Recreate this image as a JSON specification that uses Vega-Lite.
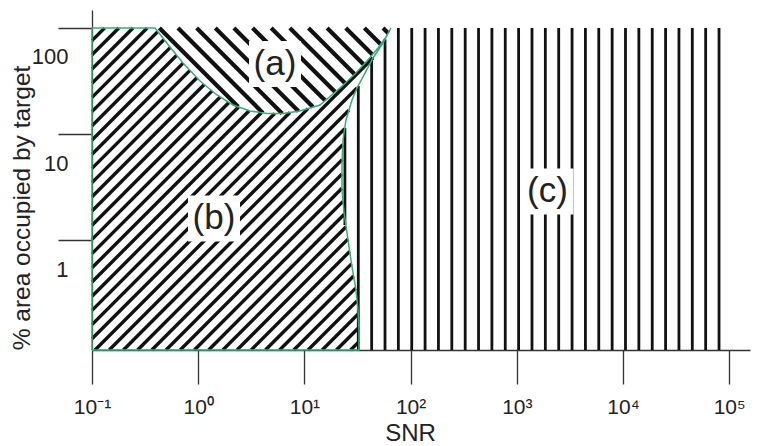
{
  "$schema": "https://vega.github.io/schema/vega-lite/v6.json",
  "width": 658,
  "height": 340,
  "autosize": {"type": "none"},
  "padding": {"left": 92, "top": 10, "right": 8, "bottom": 96},
  "background": "white",
  "config": {"view": {"stroke": null}, "font": "Liberation Sans"},
  "datasets": {
    "hatchC": [
      {"x": 24.07, "y": 1.3965, "x2": 24.07, "y2": 11.439},
      {"x": 32.17, "y": 0.09289, "x2": 32.17, "y2": 28.43},
      {"x": 42.98, "y": 0.09289, "x2": 42.98, "y2": 49.43},
      {"x": 57.43, "y": 0.09289, "x2": 57.43, "y2": 78.36},
      {"x": 76.7, "y": 0.09289, "x2": 76.7, "y2": 100},
      {"x": 102.5, "y": 0.09289, "x2": 102.5, "y2": 100},
      {"x": 136.9, "y": 0.09289, "x2": 136.9, "y2": 100},
      {"x": 182.9, "y": 0.09289, "x2": 182.9, "y2": 100},
      {"x": 244.4, "y": 0.09289, "x2": 244.4, "y2": 100},
      {"x": 326.6, "y": 0.09289, "x2": 326.6, "y2": 100},
      {"x": 436.3, "y": 0.09289, "x2": 436.3, "y2": 100},
      {"x": 582.9, "y": 0.09289, "x2": 582.9, "y2": 100},
      {"x": 778.7, "y": 0.09289, "x2": 778.7, "y2": 100},
      {"x": 1040, "y": 0.09289, "x2": 1040, "y2": 100},
      {"x": 1390, "y": 0.09289, "x2": 1390, "y2": 100},
      {"x": 1857, "y": 0.09289, "x2": 1857, "y2": 100},
      {"x": 2481, "y": 0.09289, "x2": 2481, "y2": 100},
      {"x": 3314, "y": 0.09289, "x2": 3314, "y2": 100},
      {"x": 4428, "y": 0.09289, "x2": 4428, "y2": 100},
      {"x": 5915, "y": 0.09289, "x2": 5915, "y2": 100},
      {"x": 7903, "y": 0.09289, "x2": 7903, "y2": 100},
      {"x": 10556, "y": 0.09289, "x2": 10556, "y2": 100},
      {"x": 14103, "y": 0.09289, "x2": 14103, "y2": 100},
      {"x": 18845, "y": 0.09289, "x2": 18845, "y2": 100},
      {"x": 25177, "y": 0.09289, "x2": 25177, "y2": 100},
      {"x": 33638, "y": 0.09289, "x2": 33638, "y2": 100},
      {"x": 44936, "y": 0.09289, "x2": 44936, "y2": 100},
      {"x": 60035, "y": 0.09289, "x2": 60035, "y2": 100},
      {"x": 80218, "y": 0.09289, "x2": 80218, "y2": 100}
    ],
    "hatchB": [
      {"x": 0.1, "y": 76.1, "x2": 0.13141, "y2": 100},
      {"x": 0.1, "y": 55.93, "x2": 0.17879, "y2": 100},
      {"x": 0.1, "y": 41.11, "x2": 0.24326, "y2": 100},
      {"x": 0.1, "y": 30.22, "x2": 0.33095, "y2": 100},
      {"x": 0.1, "y": 22.21, "x2": 0.41647, "y2": 92.5},
      {"x": 0.1, "y": 16.32, "x2": 0.47743, "y2": 77.92},
      {"x": 0.1, "y": 12.0, "x2": 0.5473, "y2": 65.68},
      {"x": 0.1, "y": 8.818, "x2": 0.6274, "y2": 55.32},
      {"x": 0.1, "y": 6.483, "x2": 0.7208, "y2": 46.73},
      {"x": 0.1, "y": 4.764, "x2": 0.8371, "y2": 39.88},
      {"x": 0.1, "y": 3.502, "x2": 0.9722, "y2": 34.05},
      {"x": 0.1, "y": 2.574, "x2": 1.1414, "y2": 29.38},
      {"x": 0.1, "y": 1.892, "x2": 1.3517, "y2": 25.57},
      {"x": 0.1, "y": 1.3904, "x2": 1.6112, "y2": 22.4},
      {"x": 0.1, "y": 1.0219, "x2": 1.9457, "y2": 19.88},
      {"x": 0.1, "y": 0.7511, "x2": 2.4011, "y2": 18.035},
      {"x": 0.1, "y": 0.5521, "x2": 3.0149, "y2": 16.645},
      {"x": 0.1, "y": 0.4058, "x2": 3.928, "y2": 15.94},
      {"x": 0.1, "y": 0.2982, "x2": 5.2522, "y2": 15.66},
      {"x": 0.1, "y": 0.2192, "x2": 7.3025, "y2": 16.007},
      {"x": 0.1, "y": 0.1611, "x2": 10.812, "y2": 17.42},
      {"x": 0.1, "y": 0.1184, "x2": 44.35, "y2": 52.51},
      {"x": 0.10672, "y": 0.09289, "x2": 31.28, "y2": 27.23},
      {"x": 0.1452, "y": 0.09289, "x2": 26.24, "y2": 16.79},
      {"x": 0.19755, "y": 0.09289, "x2": 23.96, "y2": 11.267},
      {"x": 0.26877, "y": 0.09289, "x2": 22.99, "y2": 7.947},
      {"x": 0.36569, "y": 0.09289, "x2": 22.69, "y2": 5.765},
      {"x": 0.49751, "y": 0.09289, "x2": 22.6, "y2": 4.22},
      {"x": 0.67687, "y": 0.09289, "x2": 22.6, "y2": 3.101},
      {"x": 0.92092, "y": 0.09289, "x2": 23.09, "y2": 2.33},
      {"x": 1.2529, "y": 0.09289, "x2": 23.75, "y2": 1.7612},
      {"x": 1.7047, "y": 0.09289, "x2": 24.7, "y2": 1.3459},
      {"x": 2.3193, "y": 0.09289, "x2": 25.68, "y2": 1.0287},
      {"x": 3.1554, "y": 0.09289, "x2": 26.7, "y2": 0.7862},
      {"x": 4.2931, "y": 0.09289, "x2": 27.77, "y2": 0.6008},
      {"x": 5.841, "y": 0.09289, "x2": 29.06, "y2": 0.4622},
      {"x": 7.947, "y": 0.09289, "x2": 30.41, "y2": 0.3555},
      {"x": 10.812, "y": 0.09289, "x2": 31.35, "y2": 0.2694},
      {"x": 14.711, "y": 0.09289, "x2": 32.11, "y2": 0.2028},
      {"x": 20.014, "y": 0.09289, "x2": 32.6, "y2": 0.1513},
      {"x": 27.23, "y": 0.09289, "x2": 32.67, "y2": 0.1115}
    ],
    "hatchA": [
      {"x": 0.4308, "y": 100, "x2": 2.3787, "y2": 18.111},
      {"x": 0.6454, "y": 100, "x2": 4.067, "y2": 15.87},
      {"x": 0.9668, "y": 100, "x2": 6.172, "y2": 15.66},
      {"x": 1.4483, "y": 100, "x2": 8.797, "y2": 16.46},
      {"x": 2.1695, "y": 100, "x2": 12.056, "y2": 17.995},
      {"x": 3.2499, "y": 100, "x2": 15.685, "y2": 20.72},
      {"x": 4.8683, "y": 100, "x2": 19.5, "y2": 24.97},
      {"x": 7.293, "y": 100, "x2": 24.19, "y2": 30.15},
      {"x": 10.925, "y": 100, "x2": 29.75, "y2": 36.73},
      {"x": 16.365, "y": 100, "x2": 36.19, "y2": 45.22},
      {"x": 24.515, "y": 100, "x2": 43.64, "y2": 56.17},
      {"x": 36.72, "y": 100, "x2": 52.29, "y2": 70.23},
      {"x": 55.01, "y": 100, "x2": 61.58, "y2": 89.33}
    ],
    "outline": [
      {"o": 0, "x": 0.1, "y": 0.09289},
      {"o": 1, "x": 0.1, "y": 100},
      {"o": 2, "x": 0.3919, "y": 100},
      {"o": 3, "x": 0.5426, "y": 66.24},
      {"o": 4, "x": 0.7194, "y": 46.82},
      {"o": 5, "x": 1.0398, "y": 31.69},
      {"o": 6, "x": 1.5032, "y": 23.39},
      {"o": 7, "x": 2.1265, "y": 18.834},
      {"o": 8, "x": 3.0744, "y": 16.536},
      {"o": 9, "x": 4.4446, "y": 15.664},
      {"o": 10, "x": 6.2877, "y": 15.664},
      {"o": 11, "x": 9.09, "y": 16.536},
      {"o": 12, "x": 14.025, "y": 18.834},
      {"o": 13, "x": 21.638, "y": 27.23},
      {"o": 14, "x": 29.954, "y": 36.882},
      {"o": 15, "x": 38.846, "y": 48.89},
      {"o": 16, "x": 49.32, "y": 64.82},
      {"o": 17, "x": 58.66, "y": 82.28},
      {"o": 18, "x": 65.38, "y": 100},
      {"o": 19, "x": 54.97, "y": 72.24},
      {"o": 20, "x": 44.25, "y": 52.18},
      {"o": 21, "x": 36.41, "y": 36.09},
      {"o": 22, "x": 31.28, "y": 27.23},
      {"o": 23, "x": 28.07, "y": 20.99},
      {"o": 24, "x": 24.645, "y": 13.605},
      {"o": 25, "x": 23.093, "y": 8.818},
      {"o": 26, "x": 22.597, "y": 5.1286},
      {"o": 27, "x": 22.597, "y": 2.9825},
      {"o": 28, "x": 23.598, "y": 1.851},
      {"o": 29, "x": 25.184, "y": 1.1741},
      {"o": 30, "x": 28.07, "y": 0.5617},
      {"o": 31, "x": 30.61, "y": 0.3412},
      {"o": 32, "x": 31.97, "y": 0.2211},
      {"o": 33, "x": 32.66, "y": 0.14333},
      {"o": 34, "x": 32.66, "y": 0.09289},
      {"o": 35, "x": 0.1, "y": 0.09289}
    ],
    "labels": [
      {"x": 5.286, "y": 45.82, "t": "(a)"},
      {"x": 1.4085, "y": 1.6077, "t": "(b)"},
      {"x": 1945.7, "y": 2.8868, "t": "(c)"}
    ]
  },
  "encoding": {
    "x": {
      "field": "x",
      "type": "quantitative",
      "scale": {"type": "log", "domain": [0.1, 156990], "nice": false},
      "axis": {
        "title": "SNR",
        "values": [0.1, 1, 10, 100, 1000, 10000, 100000],
        "labelExpr": "'10' + ['⁻¹','⁰','¹','²','³','⁴','⁵'][round(log(datum.value)/LN10) + 1]",
        "grid": false,
        "tickSize": 34,
        "tickWidth": 1.3,
        "tickColor": "#333333",
        "domainColor": "#333333",
        "domainWidth": 1.3,
        "labelPadding": 12,
        "labelFontSize": 21,
        "labelFont": "Liberation Sans",
        "labelColor": "#222222",
        "labelFlush": false,
        "labelOverlap": false,
        "titleFont": "Liberation Sans",
        "titleFontSize": 24,
        "titleFontWeight": "normal",
        "titleColor": "#222222",
        "titleX": 318,
        "titleY": 90,
        "titleAlign": "center",
        "titleBaseline": "alphabetic"
      }
    },
    "y": {
      "field": "y",
      "type": "quantitative",
      "scale": {"type": "log", "domain": [0.09289, 147.71], "nice": false},
      "axis": {
        "title": "% area occupied by target",
        "values": [1, 10, 100],
        "labelExpr": "datum.value >= 99 ? '100' : (datum.value >= 9 ? '10' : '1')",
        "grid": false,
        "tickSize": 34,
        "tickWidth": 1.3,
        "tickColor": "#333333",
        "domainColor": "#333333",
        "domainWidth": 1.3,
        "labelPadding": -10,
        "labelOffset": 29,
        "labelAlign": "right",
        "labelBaseline": "middle",
        "labelFontSize": 22,
        "labelFont": "Liberation Sans",
        "labelColor": "#222222",
        "labelFlush": false,
        "labelOverlap": false,
        "titleFont": "Liberation Sans",
        "titleFontSize": 24.5,
        "titleFontWeight": "normal",
        "titleColor": "#222222",
        "titleX": -63,
        "titleY": 197.5,
        "titleAlign": "center",
        "titleBaseline": "alphabetic"
      }
    }
  },
  "layer": [
    {
      "data": {"name": "hatchC"},
      "mark": {"type": "rule", "color": "#111111", "strokeWidth": 2.8},
      "encoding": {"x2": {"field": "x2"}, "y2": {"field": "y2"}}
    },
    {
      "data": {"name": "hatchB"},
      "mark": {"type": "rule", "color": "#111111", "strokeWidth": 3.4},
      "encoding": {"x2": {"field": "x2"}, "y2": {"field": "y2"}}
    },
    {
      "data": {"name": "hatchA"},
      "mark": {"type": "rule", "color": "#111111", "strokeWidth": 4.2},
      "encoding": {"x2": {"field": "x2"}, "y2": {"field": "y2"}}
    },
    {
      "data": {"name": "outline"},
      "mark": {"type": "line", "color": "#3aaa78", "strokeWidth": 1.5},
      "encoding": {"order": {"field": "o", "type": "quantitative"}}
    },
    {
      "data": {"name": "labels"},
      "mark": {"type": "point", "shape": "M-1.13,-1L1.13,-1L1.13,1L-1.13,1Z", "size": 2116, "filled": true, "color": "white", "opacity": 1, "strokeWidth": 0}
    },
    {
      "data": {"name": "labels"},
      "mark": {"type": "text", "fontSize": 35, "font": "Liberation Sans", "color": "#222222", "baseline": "middle", "align": "center"},
      "encoding": {"text": {"field": "t"}}
    }
  ]
}
